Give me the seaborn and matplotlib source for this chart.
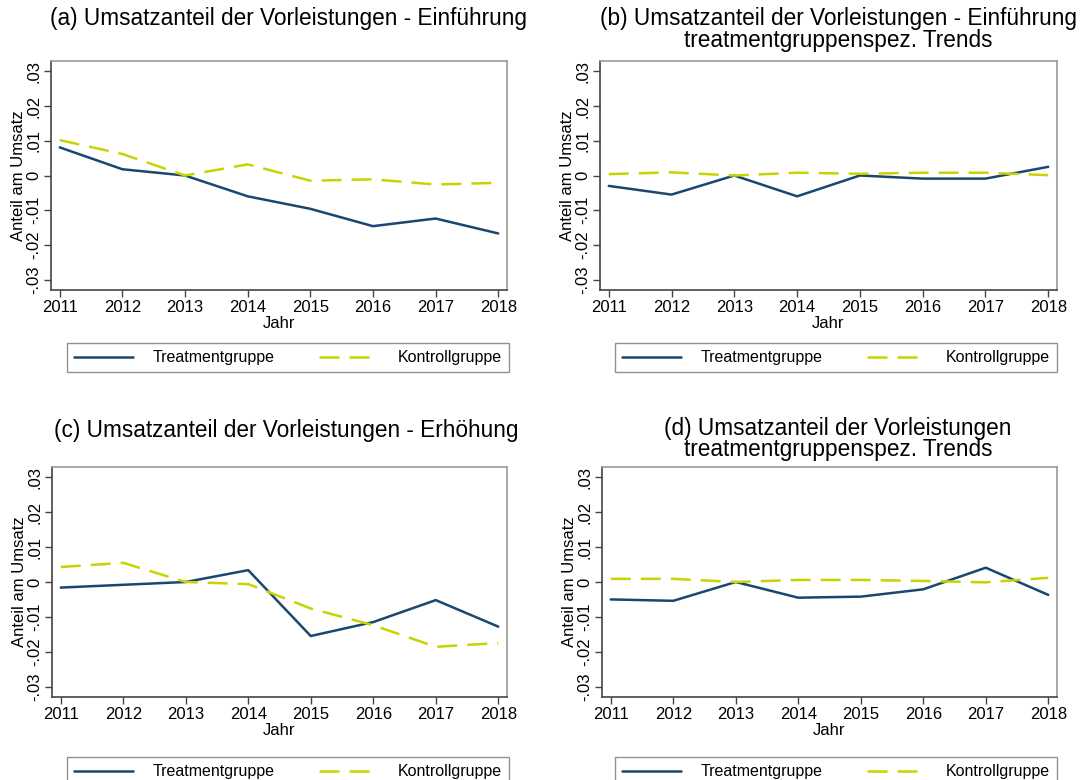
import numpy as np
import pandas as pd
import seaborn as sns
import matplotlib.pyplot as plt
from matplotlib.lines import Line2D

sns.set_theme(style="white")
plt.rcParams["font.family"] = ["Liberation Sans", "DejaVu Sans"]
plt.rcParams["text.color"] = "black"
plt.rcParams["axes.labelcolor"] = "black"
plt.rcParams["xtick.color"] = "black"
plt.rcParams["ytick.color"] = "black"

# Data
years = [2011, 2012, 2013, 2014, 2015, 2016, 2017, 2018]

treat_a = [0.0081, 0.0018, 0.0000, -0.0060, -0.0096, -0.0146, -0.0124, -0.0167]
kontr_a = [0.0102, 0.0062, 0.0000, 0.0032, -0.0015, -0.0011, -0.0026, -0.0021]

treat_b = [-0.0030, -0.0055, 0.0000, -0.0060, 0.0000, -0.0009, -0.0009, 0.0025]
kontr_b = [0.0004, 0.0009, 0.0000, 0.0008, 0.0005, 0.0008, 0.0008, 0.0001]

treat_c = [-0.0016, -0.0008, 0.0000, 0.0034, -0.0155, -0.0115, -0.0052, -0.0128]
kontr_c = [0.0043, 0.0055, 0.0000, -0.0006, -0.0076, -0.0124, -0.0186, -0.0175]

treat_d = [-0.0050, -0.0054, 0.0000, -0.0045, -0.0042, -0.0021, 0.0041, -0.0037]
kontr_d = [0.0009, 0.0009, 0.0000, 0.0006, 0.0006, 0.0003, -0.0001, 0.0012]

groups = ["Treatmentgruppe", "Kontrollgruppe"]
yticks = [-0.03, -0.02, -0.01, 0, 0.01, 0.02, 0.03]
ytick_labels = ["-.03", "-.02", "-.01", "0", ".01", ".02", ".03"]

titles = [
    ["(a) Umsatzanteil der Vorleistungen - Einführung"],
    ["(b) Umsatzanteil der Vorleistungen - Einführung", "treatmentgruppenspez. Trends"],
    ["(c) Umsatzanteil der Vorleistungen - Erhöhung"],
    ["(d) Umsatzanteil der Vorleistungen", "treatmentgruppenspez. Trends"],
]
series = [(treat_a, kontr_a), (treat_b, kontr_b), (treat_c, kontr_c), (treat_d, kontr_d)]

navy = "#1a476f"
lime = "#c8d400"
palette = {"Treatmentgruppe": navy, "Kontrollgruppe": lime}
dashes = {"Treatmentgruppe": "", "Kontrollgruppe": (8, 4)}

W, H = 1083, 780
fig = plt.figure(figsize=(W / 100, H / 100), dpi=100)

# axes boxes in pixels: left, top, right, bottom
boxes = [(51, 61, 507, 290), (600, 61, 1057, 290), (52, 467, 507, 697), (602, 467, 1057, 697)]
title_pos = [(288, 18), (838, 18), (286, 430), (838, 428)]

for i, (box, tt, (tr, ko)) in enumerate(zip(boxes, titles, series)):
    l, t, r, b = box
    ax = fig.add_axes([l / W, 1 - b / H, (r - l) / W, (b - t) / H])
    df = pd.DataFrame({
        "Jahr": years * 2,
        "wert": tr + ko,
        "gruppe": [groups[0]] * len(years) + [groups[1]] * len(years),
    })
    sns.lineplot(data=df, x="Jahr", y="wert", hue="gruppe", style="gruppe",
                 palette=palette, dashes=dashes, linewidth=1.8, ax=ax, legend=False)

    ax.set_xlim(2010.86, 2018.14)
    ax.set_ylim(-0.033, 0.033)
    ax.set_xticks(years)
    ax.set_xticklabels([str(y) for y in years], fontsize=12)
    ax.set_yticks(yticks)
    ax.set_yticklabels(ytick_labels, fontsize=12, rotation=90, va="center")
    ax.tick_params(axis="both", length=5, width=1, color="#444444", direction="out",
                   left=True, bottom=True, pad=2)
    ax.set_xlabel("Jahr", fontsize=12, labelpad=1)
    ax.set_ylabel("Anteil am Umsatz", fontsize=12, labelpad=0)
    for s in ["top", "right"]:
        ax.spines[s].set_color("#999999")
    for s in ["left", "bottom"]:
        ax.spines[s].set_color("#444444")
    for s in ax.spines.values():
        s.set_linewidth(1.2)

    # titles
    cx, cy = title_pos[i]
    for k, line in enumerate(tt):
        fig.text(cx / W, 1 - (cy + 22 * k) / H, line, fontsize=16.3, ha="center", va="center")

    # legend
    handles = [Line2D([], [], color=navy, lw=1.8),
               Line2D([], [], color=lime, lw=1.8, dashes=(8, 4))]
    leg_l = 67 if i % 2 == 0 else 615
    leg_t = 343 if i < 2 else 757
    leg = fig.legend(handles, groups, ncol=2, fontsize=11.5,
                     bbox_to_anchor=(leg_l / W, 1 - leg_t / H),
                     loc="upper left", handlelength=3.7, handletextpad=1.2,
                     columnspacing=2.8, borderpad=0.45, frameon=True, fancybox=False,
                     borderaxespad=0)
    leg.get_frame().set_edgecolor("#777777")
    leg.get_frame().set_linewidth(1.0)

fig.savefig("out.png", dpi=100, facecolor="white")
